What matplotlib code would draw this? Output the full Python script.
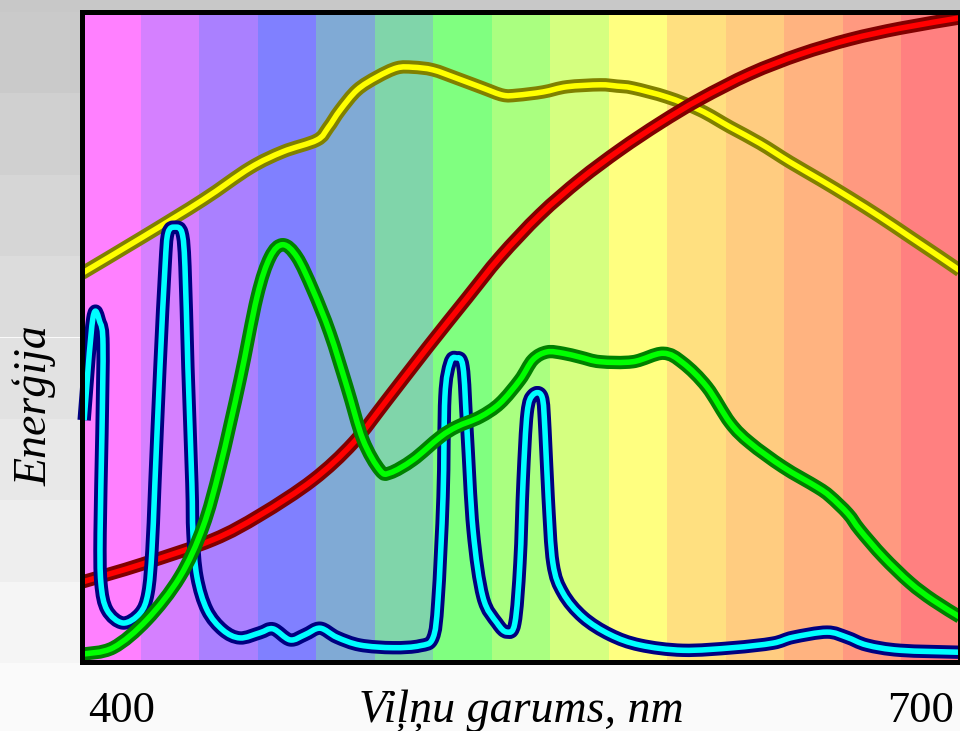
import numpy as np
import matplotlib
matplotlib.use("Agg")
import matplotlib.pyplot as plt
from matplotlib.path import Path
from matplotlib.patches import PathPatch, Rectangle

# ---------------- data ----------------
band_edges = [385, 407, 429, 451, 473, 495, 517, 539, 561, 583, 605, 627, 649, 671, 693, 715]
band_colors = ['#ff80ff', '#d580ff', '#aa80ff', '#8080ff', '#80aad5', '#80d5aa',
               '#80ff80', '#aaff80', '#d5ff80', '#ffff80', '#ffe080', '#ffcc80',
               '#ffb380', '#ff9980', '#ff8080']

tick_values = [400, 700]
tick_labels = ['400', '700']
x_label = 'Viļņu garums, nm'
y_label = 'Enerģija'

# sunlight (yellow)
sun_nm = [385.0, 407.9, 430.5, 448.1, 460.5, 473.3, 477.5, 482.0, 488.4, 495.9, 503.4,
          509.4, 516.9, 525.9, 535.7, 543.2, 548.5, 558.3, 567.3, 579.7, 586.1, 592.1,
          604.9, 617.3, 628.6, 639.8, 651.1, 662.4, 673.7, 684.9, 696.2, 707.5, 715.0]
sun_energy = [59.8, 65.4, 71.1, 76.0, 78.5, 80.3, 82.2, 84.9, 88.0, 90.0, 91.4,
              91.5, 91.1, 89.8, 88.3, 87.2, 87.2, 87.7, 88.5, 88.8, 88.6, 88.3,
              86.9, 84.9, 82.3, 79.8, 76.9, 74.2, 71.4, 68.5, 65.4, 62.3, 60.2]

# incandescent (red)
inc_nm = [385.0, 407.9, 434.2, 451.9, 471.8, 486.9, 499.6, 514.7, 529.7, 542.1,
          557.1, 572.2, 587.2, 602.2, 617.3, 636.1, 654.9, 673.7, 692.5, 715.0]
inc_energy = [12.3, 15.1, 18.8, 22.6, 28.0, 33.7, 40.3, 48.3, 56.0, 62.3,
              68.8, 74.2, 78.8, 82.9, 86.6, 90.5, 93.5, 95.8, 97.5, 99.1]

# green curve
grn_nm = [385.0, 396.7, 409.4, 421.8, 430.5, 436.9, 444.4, 450.8, 455.7, 460.5, 465.8,
          471.8, 478.2, 484.6, 490.6, 497.0, 500.8, 509.4, 519.6, 525.9, 534.6, 542.1,
          549.6, 554.5, 559.8, 565.8, 572.2, 579.7, 592.1, 603.4, 610.9, 619.9, 628.6,
          636.1, 648.5, 661.3, 666.1, 672.9, 677.4, 686.1, 696.2, 704.9, 715.0]
grn_energy = [1.2, 2.2, 6.5, 13.1, 20.8, 30.0, 43.4, 56.2, 62.3, 64.2, 62.3,
              57.2, 50.6, 42.3, 34.2, 29.5, 29.1, 31.1, 34.6, 36.2, 37.7, 39.8,
              43.4, 46.5, 47.7, 47.5, 46.9, 46.2, 46.2, 47.5, 46.0, 42.3, 36.8,
              33.7, 30.0, 26.9, 25.5, 22.8, 20.3, 16.2, 12.2, 9.5, 6.9]

# fluorescent (cyan)
flu_nm = [385.8, 389.1, 391.8, 392.9, 392.5, 391.8, 392.1, 394.4, 400.4, 406.8, 409.8,
          411.3, 412.4, 414.3, 416.2, 417.3, 420.0, 422.6, 423.7, 424.8, 426.3, 426.7,
          428.2, 432.0, 438.0, 444.4, 451.9, 456.8, 463.2, 468.8, 474.5, 480.8, 489.5,
          501.9, 512.0, 516.9, 518.8, 520.7, 521.4, 523.3, 525.6, 528.2, 529.7, 532.0,
          535.7, 541.0, 544.7, 547.7, 549.6, 550.8, 552.3, 554.5, 557.9, 559.0, 560.2,
          562.0, 565.8, 573.3, 583.5, 594.7, 610.9, 629.7, 644.7, 652.2, 665.0, 672.5,
          680.0, 692.5, 715.0]
flu_energy = [37.2, 52.9, 52.2, 48.8, 35.2, 19.8, 12.2, 8.0, 6.0, 7.5, 10.6,
              17.2, 27.5, 45.4, 60.8, 66.0, 66.9, 66.0, 60.8, 45.4, 27.5, 19.8,
              13.1, 8.0, 4.9, 3.7, 4.5, 5.1, 3.4, 4.2, 5.2, 3.8, 2.6,
              2.2, 2.5, 3.7, 9.5, 25.4, 40.8, 46.0, 46.8, 45.4, 35.7, 20.3,
              10.0, 6.0, 4.6, 6.0, 15.2, 28.0, 38.3, 41.1, 40.8, 35.7, 25.4,
              15.2, 10.6, 6.9, 4.2, 2.6, 1.8, 2.2, 2.9, 3.8, 4.6, 3.8,
              2.6, 1.8, 1.5]

# ---------------- helpers ----------------
def smooth_path(xs, ys):
    P = np.column_stack([xs, ys]).astype(float)
    ext = np.vstack([P[0], P, P[-1]])
    verts = [P[0]]
    codes = [Path.MOVETO]
    for i in range(len(P) - 1):
        p0, p1, p2, p3 = ext[i], ext[i + 1], ext[i + 2], ext[i + 3]
        c1 = p1 + (p2 - p0) / 6.0
        c2 = p2 - (p3 - p1) / 6.0
        verts += [c1, c2, p2]
        codes += [Path.CURVE4] * 3
    return Path(verts, codes)


def draw_curve(ax, xs, ys, inner, outer, z, clip=True):
    path = smooth_path(xs, ys)
    for col, lw, dz in ((outer, 9.6, 0.0), (inner, 4.0, 0.1)):
        p = PathPatch(path, facecolor='none', edgecolor=col, lw=lw,
                      capstyle='butt', joinstyle='round', zorder=z + dz,
                      transform=ax.transData)
        p.set_clip_on(clip)
        ax.add_patch(p)


# ---------------- figure ----------------
W, H = 960, 731
fig = plt.figure(figsize=(W / 100, H / 100), dpi=100, facecolor='#fafafa')

# top grey strip
fig.patches.append(Rectangle((0, 1 - 13 / H), 1, 13 / H, transform=fig.transFigure,
                             facecolor='#c8c8c8', edgecolor='none', zorder=-2))
# left grey bands
n_bands = 8
top_px, bot_px = 12, 663
bh = (bot_px - top_px) / n_bands
for i in range(n_bands):
    g = int(0xca + i * (0xf5 - 0xca) / (n_bands - 1))
    y0 = 1 - (top_px + (i + 1) * bh) / H
    fig.patches.append(Rectangle((0, y0), 82 / W, bh / H, transform=fig.transFigure,
                                 facecolor='#%02x%02x%02x' % (g, g, g), edgecolor='none',
                                 zorder=-2))

ax = fig.add_axes([82 / W, (H - 662) / H, 878 / W, 650 / H])
ax.set_xlim(band_edges[0], band_edges[-1])
ax.set_ylim(0, 100)

for i, c in enumerate(band_colors):
    ax.axvspan(band_edges[i], band_edges[i + 1], color=c, lw=0, zorder=1)

draw_curve(ax, sun_nm, sun_energy, '#ffff00', '#808000', 3)
draw_curve(ax, inc_nm, inc_energy, '#ff0000', '#800000', 4)
draw_curve(ax, flu_nm, flu_energy, '#00ffff', '#000080', 5, clip=False)
draw_curve(ax, grn_nm, grn_energy, '#00ff00', '#008000', 6)

for s in ax.spines.values():
    s.set_linewidth(3.6)
    s.set_color('black')
    s.set_zorder(10)

serif = ['Liberation Serif', 'DejaVu Serif']
ax.set_xticks(tick_values, tick_labels)
ax.set_yticks([])
ax.tick_params(axis='x', length=0, pad=21, labelsize=32)
for lbl in ax.get_xticklabels():
    lbl.set_fontfamily(serif)

ax.set_xlabel(x_label, fontsize=33, fontstyle='italic', family=serif)
ax.xaxis.set_label_coords(0.5, -0.043)
ax.xaxis.label.set_va('top')

ax.set_ylabel(y_label, fontsize=33, fontstyle='italic', family=serif)
ax.yaxis.label.set_va('center')
ax.yaxis.set_label_coords(-0.0535, 0.395)

fig.savefig('out.png', dpi=100, facecolor=fig.get_facecolor())
